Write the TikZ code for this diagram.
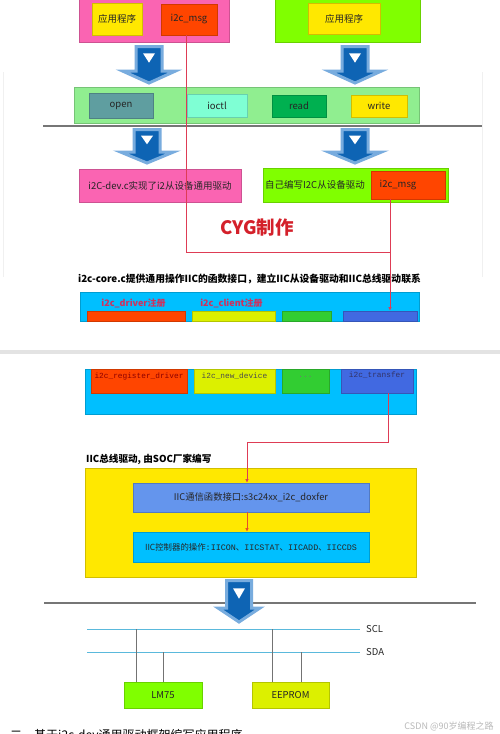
\documentclass[tikz,border=0pt]{standalone}
\usepackage{fontspec}
\setmainfont{Noto Sans CJK SC}
\newfontfamily\monof{Liberation Mono}
\usetikzlibrary{arrows.meta}
\definecolor{cpink}{RGB}{250,100,178}
\definecolor{cyel}{RGB}{255,232,0}
\definecolor{cored}{RGB}{255,69,0}
\definecolor{cchart}{RGB}{128,255,0}
\definecolor{clgreen}{RGB}{144,238,144}
\definecolor{ccadet}{RGB}{95,158,160}
\definecolor{caqua}{RGB}{127,255,212}
\definecolor{cread}{RGB}{0,176,80}
\definecolor{csky}{RGB}{0,191,255}
\definecolor{cyg}{RGB}{220,240,0}
\definecolor{clime}{RGB}{50,205,50}
\definecolor{croyal}{RGB}{65,105,225}
\definecolor{ccorn}{RGB}{100,149,237}
\definecolor{redline}{RGB}{222,60,85}
\definecolor{orline}{RGB}{230,80,40}
\definecolor{cygred}{RGB}{212,32,42}
\definecolor{regred}{RGB}{205,50,95}
\definecolor{sepgray}{RGB}{118,118,118}
\definecolor{busblue}{RGB}{90,185,220}
\definecolor{arlite}{RGB}{120,172,222}
\definecolor{ardark}{RGB}{14,100,180}
\newcommand\blkarrow[6]{% cx, ytop, yhead, ytip, shaft hw, head hw
  \filldraw[fill=ardark,draw=arlite,line width=3pt,line join=miter,miter limit=10]
    ({#1-#5+1.5},{#2+1.5}) -- ({#1+#5-1.5},{#2+1.5}) -- ({#1+#5-1.5},{#3}) --
    ({#1+#6-2},{#3}) -- ({#1},{#4-2}) -- ({#1-#6+2},{#3}) -- ({#1-#5+1.5},{#3}) -- cycle;
  \fill[white] ({#1-6},{#2+0.32*(#3-#2)}) -- ({#1+6},{#2+0.32*(#3-#2)}) -- ({#1},{#2+0.68*(#3-#2)}) -- cycle;
}
\begin{document}
\begin{tikzpicture}[x=1pt,y=-1pt,
  box/.style={fill=#1, draw=#1!82!black, line width=0.6pt, inner sep=0pt},
  sz/.style 2 args={minimum width=#1pt, minimum height=#2pt},
  lbl/.style={font=\fontsize{9.5}{10}\selectfont, text=black!85, inner sep=0pt},
  mono/.style={font=\monof\fontsize{7.8}{9}\selectfont, inner sep=0pt},
  redln/.style={draw=redline, line width=0.7pt},
  orln/.style={draw=orline, line width=0.7pt},
  sepln/.style={draw=sepgray, line width=1.5pt},
  busln/.style={draw=busblue, line width=0.8pt},
  tapln/.style={draw=gray!90!black, line width=0.8pt},
  tip/.style={-{Latex[length=3.5pt,width=3.5pt]}}]
\useasboundingbox (0,0) rectangle (500,734);
\clip (0,0) rectangle (500,734);
\fill[white] (0,0) rectangle (500,734);

% faint slide frame
\draw[gray!12,line width=0.6pt] (3,72) -- (3,277) (482,72) -- (482,277);

% ---------- top: applications ----------
\node[box=cpink, sz={150}{47}] (pink1) at (154,18.5) {};
\node[box=cyel, sz={50}{32}, lbl] (app1) at (117,19) {应用程序};
\node[box=cored, sz={56}{31}, lbl] (msg1) at (189,19.5) {i2c\_msg};
\node[box=cchart, sz={145}{47}] (green1) at (347.5,18.5) {};
\node[box=cyel, sz={72}{31}, lbl] (app2) at (344,18.5) {应用程序};

\blkarrow{149}{45}{71}{85}{14.5}{28.5}
\blkarrow{355}{45}{71}{85}{14.5}{28.5}

\node[box=clgreen, sz={345}{36}] (bar) at (246.5,105) {};
\node[box=ccadet, sz={64}{25}, lbl] (open) at (121,105.5) {open};
\node[box=caqua, sz={60}{23}, lbl] (ioctl) at (217,105.5) {ioctl};
\node[box=cread, sz={54}{22}, lbl] (read) at (299,106) {read};
\node[box=cyel, sz={56}{22}, lbl] (write) at (379,106) {write};

\coordinate (s1a) at (43,126); \coordinate (s1b) at (482,126);
\draw[sepln] (s1a) -- (s1b);

\blkarrow{147}{128}{152}{165}{14.5}{28.5}
\blkarrow{355}{128}{152}{165}{14.5}{28.5}

\node[box=cpink, sz={162}{33}, lbl] (dev) at (160,185.5) {i2C-dev.c实现了i2从设备通用驱动};
\node[box=cchart, sz={185}{34}] (own) at (355.5,185) {};
\node[lbl] (ownt) at (315,185) {自己编写I2C从设备驱动};
\node[box=cored, sz={74}{28}] (msg2) at (408,185) {};
\node[lbl] (msg2t) at (398,185) {i2c\_msg};

\node[font=\bfseries\fontsize{18.5}{19}\selectfont, text=cygred, inner sep=0pt] (cyg) at (257,228) {CYG制作};

% ---------- i2c-core (first screenshot) ----------
\node[font=\bfseries\fontsize{9.8}{10}\selectfont, inner sep=0pt] (coret) at (249.5,279) {i2c-core.c提供通用操作IIC的函数接口，建立IIC从设备驱动和IIC总线驱动联系};
\node[box=csky, sz={339}{29}] (core) at (249.5,306.5) {};
\node[font=\bfseries\fontsize{9}{9}\selectfont, text=regred, inner sep=0pt] (drvr) at (133.5,303) {i2c\_driver注册};
\node[font=\bfseries\fontsize{9}{9}\selectfont, text=regred, inner sep=0pt] (clnr) at (231.5,303) {i2c\_client注册};
\node[box=cored, sz={98}{10}] (c1) at (136,316) {};
\node[box=cyg, sz={83}{10}] (c2) at (233.5,316) {};
\node[box=clime, sz={49}{10}] (c3) at (306.5,316) {};
\node[box=croyal, sz={74}{10}] (c4) at (380,316) {};

% red connector from i2c_msg boxes
\coordinate (j1) at (186,252);
\coordinate (j2) at (390,252);
\draw[redln] (msg1.south -| j1) -- (j1) -- (j2);
\draw[redln,tip] (msg2.south -| j2) -- (c4.north -| j2);

% screenshot divider
\fill[gray!22] (0,350) rectangle (500,354);

% ---------- i2c-core (second screenshot) ----------
\node[box=csky, sz={331}{45}] (core2) at (250.5,391.5) {};
\node[box=cored, sz={96}{24}] (r1) at (139,381) {};
\node[box=cyg, sz={81}{24}] (r2) at (234.5,381) {};
\node[box=clime, sz={47}{24}] (r3) at (305.5,381) {};
\node[box=croyal, sz={72}{24}] (r4) at (377,381) {};
\node[mono, text=red!55!black] (r1t) at (139,376) {i2c\_register\_driver};
\node[mono, text=black!70] (r2t) at (234.5,376) {i2c\_new\_device};
\node[mono, text=black!55] (r3t) at (305.5,377) {...};
\node[mono, text=blue!25!black!80] (r4t) at (377,375) {i2c\_transfer};

\node[font=\bfseries\fontsize{9.6}{10}\selectfont, inner sep=0pt, anchor=west] (bust) at (86,459) {IIC总线驱动, 由SOC厂家编写};
\node[box=cyel, sz={331}{109}] (ybig) at (250.5,522.5) {};
\node[box=ccorn, sz={236}{29}, font=\fontsize{9.3}{10}\selectfont, text=black!85] (dox) at (251,497.5) {IIC通信函数接口:s3c24xx\_i2c\_doxfer};
\node[box=csky, sz={236}{30}, font=\fontsize{8.4}{10}\selectfont, text=black!85] (ctrl) at (251,547)
  {IIC控制器的操作{\monof :IICON}、{\monof IICSTAT}、{\monof IICADD}、{\monof IICCDS}};

\coordinate (j3) at (388,442);
\coordinate (j4) at (247,442);
\draw[redln,tip] (r4.south -| j3) -- (j3) -- (j4) -- (dox.north -| j4);
\draw[orln,tip] (dox.south -| j4) -- (ctrl.north -| j4);

% ---------- bus ----------
\coordinate (s2a) at (44,603); \coordinate (s2b) at (476,603);
\draw[sepln] (s2a) -- (s2b);
\blkarrow{239}{579}{608}{624}{14}{23}

\coordinate (sclA) at (87,629); \coordinate (sclB) at (360,629);
\coordinate (sdaA) at (87,652); \coordinate (sdaB) at (360,652);
\draw[busln] (sclA) -- (sclB);
\draw[busln] (sdaA) -- (sdaB);
\node[lbl, anchor=west] (scl) at (366,629) {SCL};
\node[lbl, anchor=west] (sda) at (366,652) {SDA};

\node[box=cchart, sz={78}{26}, lbl] (lm) at (163,695) {LM75};
\node[box=cyg, sz={77}{26}, lbl] (ee) at (290.5,695) {EEPROM};
\draw[tapln] (136,629) -- (lm.north -| 136,629);
\draw[tapln] (163,652) -- (lm.north);
\draw[tapln] (272,629) -- (ee.north -| 272,629);
\draw[tapln] (301,652) -- (ee.north -| 301,652);

\node[font=\fontsize{9}{10}\selectfont, text=gray!55, inner sep=0pt] (wm) at (449,726) {CSDN @90岁编程之路};
\node[font=\fontsize{12}{13}\selectfont, text=black, inner sep=0pt, anchor=base west] (next) at (10,739.5) {二、基于i2c-dev通用驱动框架编写应用程序};
\end{tikzpicture}
\end{document}
